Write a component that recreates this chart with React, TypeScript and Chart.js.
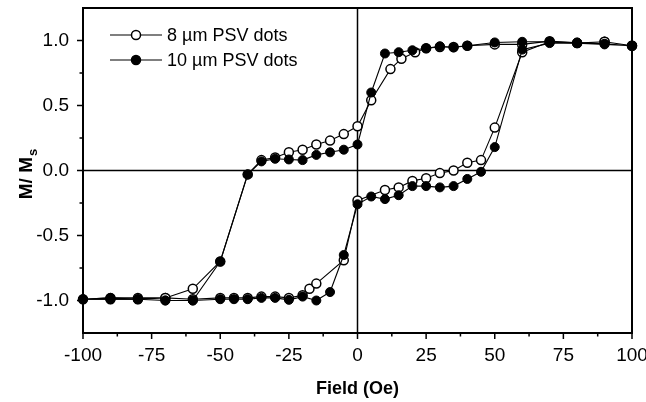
import React, { useEffect, useRef } from 'react';
import { Chart, registerables } from 'chart.js';

Chart.register(...registerables);

const FONT = '"Liberation Sans", Arial, Helvetica, sans-serif';

// 8 µm PSV dots (open circles): descending branch then ascending branch
const fields8 = [100, 90, 80, 70, 60, 50, 40, 35, 30, 25, 21, 16, 12, 5, 0, -5, -10, -15, -20, -25, -30, -35, -40, -50, -60, -70, -80, -90, -100,
  -90, -80, -70, -60, -50, -45, -40, -35, -30, -25, -20, -17.5, -15, -5, 0, 10, 15, 20, 25, 30, 35, 40, 45, 50, 60, 70, 80, 90, 100];
const m8 = [0.96, 0.99, 0.98, 0.995, 0.97, 0.97, 0.96, 0.95, 0.95, 0.94, 0.91, 0.86, 0.78, 0.54, 0.34, 0.28, 0.23, 0.2, 0.16, 0.14, 0.1, 0.08, -0.03, -0.7, -0.91, -0.98, -0.99, -0.99, -0.99,
  -0.98, -0.98, -0.98, -0.99, -0.98, -0.98, -0.98, -0.97, -0.97, -0.98, -0.96, -0.91, -0.87, -0.69, -0.23, -0.15, -0.13, -0.08, -0.06, -0.02, 0.0, 0.06, 0.08, 0.33, 0.91, 0.99, 0.98, 0.99, 0.96];

// 10 µm PSV dots (filled circles)
const fields10 = [100, 90, 80, 70, 60, 50, 40, 35, 30, 25, 20, 15, 10, 5, 0, -5, -10, -15, -20, -25, -30, -35, -40, -50, -60, -70, -80, -90, -100,
  -90, -80, -70, -60, -50, -45, -40, -35, -30, -25, -20, -15, -10, -5, 0, 5, 10, 15, 20, 25, 30, 35, 40, 45, 50, 60, 70, 80, 90, 100];
const m10 = [0.96, 0.975, 0.985, 0.99, 0.99, 0.985, 0.96, 0.946, 0.956, 0.94, 0.925, 0.91, 0.9, 0.6, 0.2, 0.16, 0.14, 0.12, 0.08, 0.085, 0.09, 0.07, -0.03, -0.7, -1.0, -1.0, -0.99, -0.99, -0.99,
  -0.98, -0.99, -1.0, -1.0, -0.99, -0.99, -0.99, -0.98, -0.98, -0.995, -0.97, -1.0, -0.935, -0.65, -0.26, -0.2, -0.22, -0.19, -0.12, -0.12, -0.13, -0.12, -0.065, -0.01, 0.18, 0.93, 0.98, 0.98, 0.97, 0.96];

const xTicks = [-100, -75, -50, -25, 0, 25, 50, 75, 100];
const yTicks = [-1.0, -0.5, 0.0, 0.5, 1.0];
const xMinor = [-87.5, -62.5, -37.5, -12.5, 12.5, 37.5, 62.5, 87.5];
const yMinor = [-0.75, -0.25, 0.25, 0.75];

const legendLabels = ['8 \u00b5m PSV dots', '10 \u00b5m PSV dots'];
const xTitle = 'Field (Oe)';

export default function App() {
  const ref = useRef<HTMLCanvasElement>(null);

  useEffect(() => {
    const canvas = ref.current;
    if (!canvas) return;

    const decor = {
      id: 'decor',
      beforeDatasetsDraw(chart: any) {
        const { ctx, chartArea: a, scales } = chart;
        ctx.save();
        ctx.strokeStyle = '#000';
        ctx.lineWidth = 1.5;
        const x0 = scales.x.getPixelForValue(0);
        const y0 = scales.y.getPixelForValue(0);
        ctx.beginPath();
        ctx.moveTo(x0, a.top);
        ctx.lineTo(x0, a.bottom);
        ctx.moveTo(a.left, y0);
        ctx.lineTo(a.right, y0);
        ctx.stroke();
        ctx.lineWidth = 2;
        ctx.strokeRect(a.left, a.top, a.right - a.left, a.bottom - a.top);
        ctx.lineWidth = 1.5;
        ctx.beginPath();
        xTicks.forEach((v) => {
          const px = scales.x.getPixelForValue(v);
          ctx.moveTo(px, a.bottom);
          ctx.lineTo(px, a.bottom + 6);
        });
        xMinor.forEach((v) => {
          const px = scales.x.getPixelForValue(v);
          ctx.moveTo(px, a.bottom);
          ctx.lineTo(px, a.bottom + 3.5);
        });
        yTicks.forEach((v) => {
          const py = scales.y.getPixelForValue(v);
          ctx.moveTo(a.left, py);
          ctx.lineTo(a.left - 6, py);
        });
        yMinor.forEach((v) => {
          const py = scales.y.getPixelForValue(v);
          ctx.moveTo(a.left, py);
          ctx.lineTo(a.left - 3.5, py);
        });
        ctx.stroke();
        ctx.restore();
      },
      afterDraw(chart: any) {
        const { ctx, chartArea: a } = chart;
        ctx.save();
        ctx.fillStyle = '#000';
        ctx.strokeStyle = '#000';
        ctx.font = `bold 18px ${FONT}`;
        ctx.textAlign = 'center';
        ctx.textBaseline = 'middle';
        ctx.fillText(xTitle, (a.left + a.right) / 2, 389);
        ctx.save();
        ctx.translate(32, (a.top + a.bottom) / 2 + 4);
        ctx.rotate(-Math.PI / 2);
        ctx.textBaseline = 'alphabetic';
        ctx.textAlign = 'left';
        ctx.font = `bold 19px ${FONT}`;
        const main = 'M/ M';
        const wMain = ctx.measureText(main).width;
        ctx.font = `bold 13px ${FONT}`;
        const wSub = ctx.measureText('s').width;
        const start = -(wMain + wSub) / 2;
        ctx.font = `bold 19px ${FONT}`;
        ctx.fillText(main, start, 0);
        ctx.font = `bold 13px ${FONT}`;
        ctx.fillText('s', start + wMain + 1, 5);
        ctx.restore();
        const rows = [35, 60];
        rows.forEach((ry, i) => {
          ctx.lineWidth = 1.2;
          ctx.beginPath();
          ctx.moveTo(110, ry);
          ctx.lineTo(162, ry);
          ctx.stroke();
          ctx.beginPath();
          ctx.arc(136, ry, 4.5, 0, Math.PI * 2);
          ctx.fillStyle = i === 0 ? '#fff' : '#000';
          ctx.fill();
          ctx.lineWidth = 1.5;
          ctx.stroke();
          ctx.fillStyle = '#000';
          ctx.font = `18px ${FONT}`;
          ctx.textAlign = 'left';
          ctx.textBaseline = 'middle';
          ctx.fillText(legendLabels[i], 167, ry + 1);
        });
        ctx.restore();
      },
    };

    const chart = new Chart(canvas, {
      type: 'scatter',
      data: {
        datasets: [
          {
            label: legendLabels[1],
            data: fields10.map((x, i) => ({ x, y: m10[i] })),
            showLine: true,
            borderColor: '#000',
            borderWidth: 1.1,
            pointRadius: 4.5,
            pointBackgroundColor: '#000',
            pointBorderColor: '#000',
            pointBorderWidth: 1,
            clip: false,
          } as any,
          {
            label: legendLabels[0],
            data: fields8.map((x, i) => ({ x, y: m8[i] })),
            showLine: true,
            borderColor: '#000',
            borderWidth: 1.1,
            pointRadius: 4.5,
            pointBackgroundColor: '#fff',
            pointBorderColor: '#000',
            pointBorderWidth: 1.5,
            clip: false,
          } as any,
        ],
      },
      options: {
        responsive: false,
        animation: false,
        devicePixelRatio: 1,
        layout: { padding: { top: 8, right: 14, left: 0, bottom: 0 } },
        plugins: {
          legend: { display: false },
          tooltip: { enabled: false },
          title: { display: false },
        },
        scales: {
          x: {
            type: 'linear',
            min: -100,
            max: 100,
            grid: { display: false, drawTicks: false },
            border: { display: false },
            afterBuildTicks: (axis: any) => {
              axis.ticks = xTicks.map((v) => ({ value: v }));
            },
            afterFit: (axis: any) => {
              axis.height = 69;
              axis.paddingLeft = 0;
              axis.paddingRight = 0;
            },
            ticks: {
              color: '#000',
              padding: 11,
              maxRotation: 0,
              autoSkip: false,
              font: { family: FONT, size: 19 },
              callback: (v: any) => String(v),
            },
          },
          y: {
            type: 'linear',
            min: -1.25,
            max: 1.25,
            grid: { display: false, drawTicks: false },
            border: { display: false },
            afterBuildTicks: (axis: any) => {
              axis.ticks = yTicks.map((v) => ({ value: v }));
            },
            afterFit: (axis: any) => {
              axis.width = 83;
              axis.paddingTop = 0;
              axis.paddingBottom = 0;
            },
            ticks: {
              color: '#000',
              padding: 14,
              autoSkip: false,
              font: { family: FONT, size: 19 },
              callback: (v: any) => Number(v).toFixed(1),
            },
          },
        },
      },
      plugins: [decor],
    });

    return () => chart.destroy();
  }, []);

  return (
    <div style={{ position: 'fixed', left: 0, top: 0, width: 646, height: 402, background: '#fff' }}>
      <canvas ref={ref} width={646} height={402} style={{ width: 646, height: 402, display: 'block' }} />
    </div>
  );
}
